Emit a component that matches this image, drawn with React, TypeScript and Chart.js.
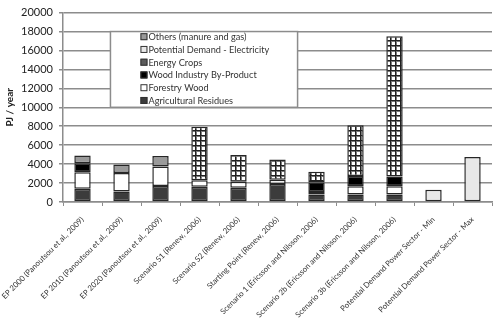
import React, { useEffect, useRef } from 'react';
import { Chart, registerables } from 'chart.js';

Chart.register(...registerables);

// Categories and stacked series (PJ / year)
const categories = [
  'EP 2000 (Panoutsou et al., 2009)',
  'EP 2010 (Panoutsou et al., 2009)',
  'EP 2020 (Panoutsou et al., 2009)',
  'Scenario S1 (Renew, 2006)',
  'Scenario S2 (Renew, 2006)',
  'Starting Point (Renew, 2006)',
  'Scenario 1 (Ericsson and Nilsson, 2006)',
  'Scenario 2b (Ericsson and Nilsson, 2006)',
  'Scenario 3b (Ericsson and Nilsson, 2006)',
  'Potential Demand Power Sector - Min',
  'Potential Demand Power Sector - Max',
];

const agriculturalResidues = [1400, 1100, 1700, 1600, 1500, 1900, 800, 800, 800, null, null];
const forestryWood = [1750, 1950, 2050, 700, 650, 450, 250, 850, 850, null, null];
const woodIndustryByProduct = [950, null, null, null, null, null, 1000, 1100, 1050, null, null];
const energyCrops = [null, null, null, 5650, 2800, 2150, 1150, 5350, 14800, null, null];
const othersManureGas = [800, 900, 1100, null, null, null, null, null, null, null, null];
const potentialDemandElectricity = [null, null, null, null, null, null, null, null, null, 1300, 4750];

const seriesNames = [
  'Agricultural Residues',
  'Forestry Wood',
  'Wood Industry By-Product',
  'Energy Crops',
  'Potential Demand - Electricity',
  'Others (manure and gas)',
];

const yMin = 0;
const yMax = 20000;
const yStep = 2000;
const legendTopValue = 18000;
const legendBottomValue = 10000;

const FONT = 'Lato, "DejaVu Sans", sans-serif';
const BAR_EDGE = '#262626';

function makeGridPattern(): CanvasPattern | string {
  const c = document.createElement('canvas');
  c.width = 5;
  c.height = 5;
  const g = c.getContext('2d');
  if (!g) return '#888';
  g.fillStyle = '#ffffff';
  g.fillRect(0, 0, 5, 5);
  g.fillStyle = '#7a7a7a';
  g.fillRect(0, 0, 5, 2);
  g.fillRect(0, 0, 2, 5);
  g.fillStyle = '#202020';
  g.fillRect(0, 0, 5, 1);
  g.fillRect(0, 0, 1, 5);
  const p = g.createPattern(c, 'repeat');
  return p || '#888';
}

export default function App() {
  const canvasRef = useRef<HTMLCanvasElement | null>(null);

  useEffect(() => {
    const canvas = canvasRef.current;
    if (!canvas) return;
    const grid = makeGridPattern();

    const legendItems = [
      { label: 'Others (manure and gas)', fill: '#9a9a9a' },
      { label: 'Potential Demand - Electricity', fill: '#e8e8e8' },
      { label: 'Energy Crops', fill: '#5c5c5c' },
      { label: 'Wood Industry By-Product', fill: '#000000' },
      { label: 'Forestry Wood', fill: '#ffffff' },
      { label: 'Agricultural Residues', fill: '#3c3c3c' },
    ];

    // Boxed legend drawn inside the plot area, between the 18000 and 10000 gridlines
    const boxLegend = {
      id: 'boxLegend',
      afterDraw(chart: any) {
        const { ctx, chartArea, scales } = chart;
        const y = scales.y;
        const top = y.getPixelForValue(legendTopValue);
        const bottom = y.getPixelForValue(legendBottomValue);
        const left = chartArea.left + chartArea.width * 0.1106;
        const right = chartArea.left + chartArea.width * 0.5468;
        const h = bottom - top;
        ctx.save();
        ctx.fillStyle = '#ffffff';
        ctx.fillRect(left, top, right - left, h);
        ctx.strokeStyle = '#8c8c8c';
        ctx.lineWidth = 1.5;
        ctx.strokeRect(left, top, right - left, h);
        ctx.font = '9.2px ' + FONT;
        ctx.textBaseline = 'middle';
        ctx.textAlign = 'left';
        legendItems.forEach((it, i) => {
          const cy = top + h * ((5.2 + i * 12.9) / 76.6);
          const bx = left + 30;
          ctx.fillStyle = it.fill;
          ctx.fillRect(bx, cy - 3.5, 7, 7);
          ctx.strokeStyle = '#333333';
          ctx.lineWidth = 1;
          ctx.strokeRect(bx + 0.5, cy - 3, 6, 6);
          ctx.fillStyle = '#333333';
          ctx.fillText(it.label, left + 38, cy + 0.5);
        });
        ctx.restore();
      },
    };

    const common = {
      borderColor: BAR_EDGE,
      borderWidth: 1.5,
      borderSkipped: false,
      categoryPercentage: 1,
      barPercentage: 0.42,
    };

    const chart = new Chart(canvas, {
      type: 'bar',
      data: {
        labels: categories,
        datasets: [
          { ...common, label: seriesNames[0], data: agriculturalResidues, backgroundColor: '#3c3c3c' },
          { ...common, label: seriesNames[1], data: forestryWood, backgroundColor: '#ffffff' },
          { ...common, label: seriesNames[2], data: woodIndustryByProduct, backgroundColor: '#000000' },
          { ...common, label: seriesNames[3], data: energyCrops, backgroundColor: grid as any },
          { ...common, label: seriesNames[4], data: potentialDemandElectricity, backgroundColor: '#e8e8e8' },
          { ...common, label: seriesNames[5], data: othersManureGas, backgroundColor: '#9a9a9a' },
        ] as any,
      },
      options: {
        responsive: false,
        animation: false,
        devicePixelRatio: 1,
        layout: { padding: { top: 12, right: 2, left: 0, bottom: 0 } },
        plugins: {
          legend: { display: false },
          tooltip: { enabled: false },
        },
        scales: {
          x: {
            stacked: true,
            afterFit: (s: any) => {
              s.height = 118;
              s.paddingLeft = 0;
              s.paddingRight = 0;
            },
            grid: {
              drawOnChartArea: false,
              drawTicks: true,
              tickLength: 4,
              color: '#8c8c8c',
              lineWidth: 1,
            },
            border: { display: true, color: '#8c8c8c', width: 1.5 },
            ticks: {
              autoSkip: false,
              minRotation: 45,
              maxRotation: 45,
              padding: 9,
              color: '#333333',
              font: { family: FONT, size: 7.8 },
            },
          },
          y: {
            stacked: true,
            min: yMin,
            max: yMax,
            afterFit: (s: any) => { s.width = 63; },
            grid: {
              color: '#8c8c8c',
              lineWidth: 1.5,
              tickLength: 4,
            },
            border: { display: true, color: '#8c8c8c', width: 1.5 },
            ticks: {
              stepSize: yStep,
              padding: 6,
              color: '#222222',
              font: { family: FONT, size: 11 },
              callback: (v: any) => String(v),
            },
            title: {
              display: true,
              text: 'PJ / year',
              color: '#222222',
              padding: { top: 4, bottom: 0 },
              font: { family: FONT, size: 10, weight: 'bold' },
            },
          },
        },
      } as any,
      plugins: [boxLegend],
    });

    return () => chart.destroy();
  }, []);

  return (
    <div style={{ position: 'fixed', left: 0, top: 0, width: 494, height: 320, background: '#ffffff' }}>
      <canvas ref={canvasRef} width={494} height={320} />
    </div>
  );
}
